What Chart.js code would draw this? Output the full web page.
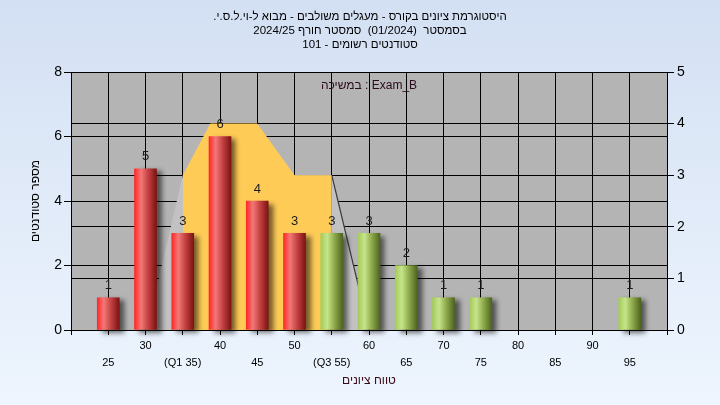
<!DOCTYPE html>
<html>
<head>
<meta charset="utf-8">
<script src="https://cdn.jsdelivr.net/npm/chart.js@4.4.1/dist/chart.umd.min.js"></script>
<style>
  body { margin: 0; background: linear-gradient(#d3e0f3, #eef5fe); width: 720px; height: 405px; overflow: hidden; }
  canvas { display: block; }
</style>
</head>
<body>
<canvas id="chart" width="720" height="405" dir="rtl"></canvas>
<script>
// histogram data
var scores = [25, 30, 35, 40, 45, 50, 55, 60, 65, 70, 75, 80, 85, 90, 95];
var counts = [1, 5, 3, 6, 4, 3, 3, 3, 2, 1, 1, 0, 0, 0, 1];

// x tick labels
var tickValues = [25, 30, 35, 40, 45, 50, 55, 60, 65, 70, 75, 80, 85, 90, 95];
var tickLabels = ["25", "30", "(Q1 35)", "40", "45", "50", "(Q3 55)", "60", "65", "70", "75", "80", "85", "90", "95"];

// yellow band between Q1 and Q3 (right axis)
var bandX = [35, 38.7, 45, 50, 55];
var bandY = [3, 4, 4, 3, 3];

// grey sides of the band (right axis)
var sideX = [30.2, 35, 55, 60];
var sideY = [0, 3, 3, 0];

var titleLines = [
  "היסטוגרמת ציונים בקורס - מעגלים משולבים - מבוא ל-וי.ל.ס.י.",
  "בסמסטר  (01/2024)  סמסטר חורף 2024/25",
  "סטודנטים רשומים - 101"
];
var yTitle = "מספר סטודנטים";
var xTitle = "טווח ציונים";
var examLabel = "Exam_B : במשיכה";

var FONT = "'Liberation Sans', Arial, sans-serif";

function barColor(c) {
  var green = c.raw && c.raw.x >= 55;
  var flat = green ? "#a0c050" : "#d03030";
  if (c.type !== "data") return flat;
  if (!c.raw.y) return "rgba(0,0,0,0)";
  var chart = c.chart;
  var xs = chart.scales.x;
  if (!xs) return flat;
  var cx = xs.getPixelForValue(c.raw.x);
  if (!isFinite(cx)) return flat;
  var g = chart.ctx.createLinearGradient(cx - 11, 0, cx + 11, 0);
  if (green) {
    g.addColorStop(0, "#a4cc58");
    g.addColorStop(0.3, "#c6e48c");
    g.addColorStop(0.6, "#93ae4e");
    g.addColorStop(1, "#4d6420");
  } else {
    g.addColorStop(0, "#ff2828");
    g.addColorStop(0.3, "#f27878");
    g.addColorStop(0.6, "#c84444");
    g.addColorStop(1, "#7c1212");
  }
  return g;
}

var plotBg = {
  id: "plotBg",
  beforeDraw: function (chart) {
    var a = chart.chartArea;
    chart.ctx.save();
    chart.ctx.fillStyle = "#b4b4b4";
    chart.ctx.fillRect(a.left, a.top, a.right - a.left, a.bottom - a.top);
    chart.ctx.restore();
  }
};

var barShadow = {
  id: "barShadow",
  beforeDatasetDraw: function (chart, args) {
    var ctx = chart.ctx;
    ctx.save();
    if (args.meta.type === "bar") {
      ctx.shadowColor = "rgba(0,0,0,0.55)";
      ctx.shadowBlur = 5;
      ctx.shadowOffsetX = 5;
      ctx.shadowOffsetY = 3;
    }
  },
  afterDatasetDraw: function (chart) {
    chart.ctx.restore();
  }
};

var barValues = {
  id: "barValues",
  afterDatasetsDraw: function (chart) {
    var ctx = chart.ctx;
    ctx.save();
    ctx.font = "13px " + FONT;
    ctx.fillStyle = "#1c1c1c";
    ctx.textAlign = "center";
    ctx.textBaseline = "middle";
    chart.data.datasets.forEach(function (ds, i) {
      var meta = chart.getDatasetMeta(i);
      if (meta.type !== "bar") return;
      meta.data.forEach(function (el, j) {
        var v = ds.data[j].y;
        if (v > 0) ctx.fillText(String(v), el.x, el.y - 12);
      });
    });
    // series label inside the plot
    var a = chart.chartArea;
    ctx.direction = "rtl";
    ctx.font = "12px " + FONT;
    ctx.fillStyle = "#2a0a1e";
    ctx.fillText(examLabel, (a.left + a.right) / 2, a.top + 14);
    ctx.restore();
  }
};

new Chart(document.getElementById("chart"), {
  data: {
    datasets: [
      {
        type: "bar",
        data: scores.map(function (s, i) { return { x: s, y: counts[i] }; }),
        backgroundColor: barColor,
        borderWidth: 0,
        barThickness: 22,
        clip: false,
        order: 1,
        yAxisID: "y"
      },
      {
        type: "line",
        data: bandX.map(function (x, i) { return { x: x, y: bandY[i] }; }),
        backgroundColor: "#ffcb57",
        borderWidth: 0,
        pointRadius: 0,
        fill: "origin",
        tension: 0,
        order: 2,
        yAxisID: "y2"
      },
      {
        type: "line",
        data: sideX.map(function (x, i) { return { x: x, y: sideY[i] }; }),
        backgroundColor: "#c2c2c2",
        borderWidth: 1.2,
        segment: {
          borderColor: function (c) { return c.p0DataIndex === 2 ? "#3a3a3a" : "rgba(0,0,0,0)"; }
        },
        pointRadius: 0,
        fill: "origin",
        tension: 0,
        order: 3,
        yAxisID: "y2"
      }
    ]
  },
  options: {
    responsive: false,
    animation: false,
    layout: { padding: 0 },
    plugins: {
      legend: { display: false },
      tooltip: { enabled: false },
      title: {
        display: true,
        text: titleLines,
        color: "#000",
        font: { family: FONT, size: 11.5, weight: "normal", lineHeight: 1.2 },
        padding: { top: 10, bottom: 20.6 }
      }
    },
    scales: {
      x: {
        type: "linear",
        min: 20,
        max: 100,
        offset: false,
        afterFit: function (s) { s.height = 75; },
        grid: { color: "#000", tickLength: 5, lineWidth: 1, offset: false },
        border: { color: "#000" },
        ticks: {
          stepSize: 5,
          autoSkip: false,
          maxRotation: 0,
          padding: 2,
          color: "#000",
          font: { family: FONT, size: 11, lineHeight: 17 / 11 },
          callback: function (value) {
            var i = tickValues.indexOf(value);
            if (i < 0) return "";
            return (value / 5) % 2 === 0 ? [tickLabels[i], ""] : ["", tickLabels[i]];
          }
        },
        title: {
          display: true,
          text: xTitle,
          color: "#3a0a14",
          font: { family: FONT, size: 12, lineHeight: 1.2 },
          padding: { top: 3, bottom: 17 }
        }
      },
      y: {
        position: "left",
        min: 0,
        max: 8,
        afterFit: function (s) { s.width = 71; },
        grid: { color: "#000", tickLength: 7 },
        border: { color: "#000" },
        ticks: { stepSize: 2, padding: 2, color: "#000", font: { family: FONT, size: 14 } },
        title: {
          display: true,
          text: yTitle,
          color: "#000",
          font: { family: FONT, size: 12, lineHeight: 1.2 },
          padding: { top: 28, bottom: 0 }
        }
      },
      y2: {
        position: "right",
        min: 0,
        max: 5,
        afterFit: function (s) { s.width = 53; },
        grid: { color: "#000", tickLength: 7 },
        border: { color: "#000" },
        ticks: { stepSize: 1, padding: 3, color: "#000", font: { family: FONT, size: 14 } }
      }
    }
  },
  plugins: [plotBg, barShadow, barValues]
});
</script>
</body>
</html>
